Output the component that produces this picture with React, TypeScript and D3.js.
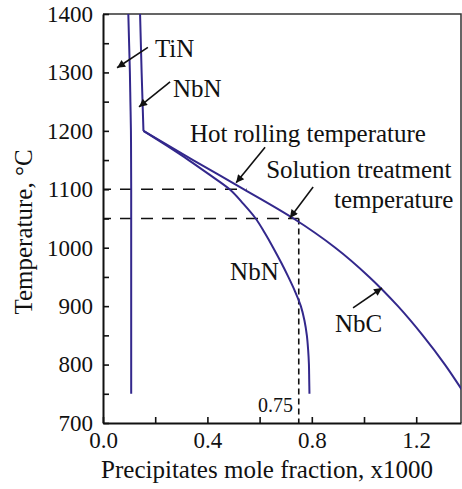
import React, { useEffect, useRef } from 'react';
import * as d3 from 'd3';

// temperature (°C) -> precipitate mole fraction (x1000)
const tinTemps = [1400, 1350, 1300, 1250, 1200, 1100, 1000, 900, 800, 750];
const tinValues = [0.097, 0.1, 0.103, 0.105, 0.107, 0.108, 0.108, 0.108, 0.108, 0.108];

const nbnHighTemps = [1400, 1300, 1200];
const nbnHighValues = [0.142, 0.148, 0.155];

const nbnLowTemps = [1200, 1175, 1150, 1125, 1100, 1075, 1050, 1025, 1000, 975, 950, 925, 900, 875, 850, 825, 800, 775, 750];
const nbnLowValues = [0.155, 0.243, 0.328, 0.408, 0.485, 0.538, 0.585, 0.62, 0.652, 0.682, 0.71, 0.736, 0.758, 0.772, 0.781, 0.786, 0.789, 0.79, 0.791];

const nbcTemps = [1200, 1150, 1100, 1050, 1000, 950, 900, 850, 800, 750];
const nbcValues = [0.155, 0.345, 0.54, 0.73, 0.89, 1.02, 1.13, 1.225, 1.31, 1.385];

const yTickValues = d3.range(700, 1401, 50);
const xTickValues = [0, 0.2, 0.4, 0.6, 0.8, 1.0, 1.2];
const xTickLabels = [0, 0.4, 0.8, 1.2];

const hotRollingTemp = 1100;
const hotRollingEnd = 0.55;
const solutionTemp = 1050;
const solutionFraction = 0.75;

export default function App() {
    const svgRef = useRef<SVGSVGElement>(null);

    useEffect(() => {
        const width = 462;
        const height = 489;
        const left = 103, right = 461, top = 14, bottom = 423;
        const lineColor = '#33288c';
        const font = '"Liberation Serif", "Times New Roman", serif';

        const svg = d3.select(svgRef.current)
            .attr('width', width)
            .attr('height', height);
        svg.selectAll('*').remove();

        svg.append('rect').attr('width', width).attr('height', height).attr('fill', '#ffffff');

        const x = d3.scaleLinear().domain([0, 1.3716]).range([left, right]);
        const y = d3.scaleLinear().domain([700, 1400]).range([bottom, top]);

        svg.append('defs').append('clipPath').attr('id', 'plotclip')
            .append('rect').attr('x', left).attr('y', top)
            .attr('width', right - left).attr('height', bottom - top);

        svg.select('defs').append('marker')
            .attr('id', 'arrow')
            .attr('viewBox', '0 0 10 10')
            .attr('refX', 10).attr('refY', 5)
            .attr('markerWidth', 10).attr('markerHeight', 8)
            .attr('markerUnits', 'userSpaceOnUse')
            .attr('orient', 'auto')
            .append('path').attr('d', 'M0,0 L10,5 L0,10 Z').attr('fill', '#111');

        // frame top / right
        svg.append('path')
            .attr('d', `M${left},${top}H${right}V${bottom}`)
            .attr('fill', 'none').attr('stroke', '#333').attr('stroke-width', 1.5);

        // dashed guides
        const guides = svg.append('g').attr('fill', 'none').attr('stroke', '#111').attr('stroke-width', 1.6);
        guides.append('line')
            .attr('x1', x(0)).attr('x2', x(hotRollingEnd))
            .attr('y1', y(hotRollingTemp)).attr('y2', y(hotRollingTemp))
            .attr('stroke-dasharray', '12,9').attr('stroke-dashoffset', 4);
        guides.append('line')
            .attr('x1', x(0)).attr('x2', x(solutionFraction))
            .attr('y1', y(solutionTemp)).attr('y2', y(solutionTemp))
            .attr('stroke-dasharray', '12,9').attr('stroke-dashoffset', 4);
        guides.append('line')
            .attr('x1', x(solutionFraction)).attr('x2', x(solutionFraction))
            .attr('y1', y(solutionTemp)).attr('y2', y(700))
            .attr('stroke-dasharray', '6,4');

        // curves
        const zip = (t: number[], v: number[]) => t.map((d, i) => [v[i], d] as [number, number]);
        const smooth = d3.line<[number, number]>().x(d => x(d[0])).y(d => y(d[1])).curve(d3.curveMonotoneY);
        const straight = d3.line<[number, number]>().x(d => x(d[0])).y(d => y(d[1]));
        const curves = svg.append('g').attr('clip-path', 'url(#plotclip)')
            .attr('fill', 'none').attr('stroke', lineColor).attr('stroke-width', 2);
        curves.append('path').attr('d', smooth(zip(tinTemps, tinValues)));
        curves.append('path').attr('d', straight(zip(nbnHighTemps, nbnHighValues)));
        curves.append('path').attr('d', smooth(zip(nbnLowTemps, nbnLowValues)));
        curves.append('path').attr('d', smooth(zip(nbcTemps, nbcValues)));

        // axes
        const yAxis = svg.append('g')
            .attr('transform', `translate(${left},0)`)
            .call(d3.axisLeft(y).tickValues(yTickValues).tickSize(-6).tickSizeOuter(0).tickPadding(10)
                .tickFormat(d => (+d % 100 === 0 ? String(d) : '')));
        const xAxis = svg.append('g')
            .attr('transform', `translate(0,${bottom})`)
            .call(d3.axisBottom(x).tickValues(xTickValues).tickSize(-6).tickSizeOuter(0).tickPadding(9)
                .tickFormat(d => (xTickLabels.some(v => Math.abs(v - +d) < 1e-9) ? d3.format('.1f')(+d) : '')));
        [yAxis, xAxis].forEach(a => {
            a.select('.domain').attr('stroke', '#111').attr('stroke-width', 2);
            a.selectAll('.tick line').attr('stroke', '#111').attr('stroke-width', 1.6);
            a.selectAll('.tick text').attr('font-family', font).attr('font-size', 23).attr('fill', '#111');
        });

        // titles
        svg.append('text')
            .attr('x', 267).attr('y', 478)
            .attr('text-anchor', 'middle')
            .attr('font-family', font).attr('font-size', 25).attr('fill', '#111')
            .text('Precipitates mole fraction, x1000');
        svg.append('text')
            .attr('transform', `translate(32,232) rotate(-90)`)
            .attr('text-anchor', 'middle')
            .attr('font-family', font).attr('font-size', 25).attr('fill', '#111')
            .text('Temperature, °C');

        // annotations
        const labels = [
            { text: 'TiN', v: 0.199, t: 1326 },
            { text: 'NbN', v: 0.268, t: 1258 },
            { text: 'Hot rolling temperature', v: 0.333, t: 1181 },
            { text: 'Solution treatment', v: 0.625, t: 1119 },
            { text: 'temperature', v: 0.885, t: 1068 },
            { text: 'NbN', v: 0.487, t: 945 },
            { text: 'NbC', v: 0.889, t: 856 },
        ];
        svg.append('g').selectAll('text').data(labels).join('text')
            .attr('x', d => x(d.v)).attr('y', d => y(d.t))
            .attr('font-family', font).attr('font-size', 25).attr('fill', '#111')
            .text(d => d.text);

        svg.append('text')
            .attr('x', x(0.728)).attr('y', y(719))
            .attr('text-anchor', 'end')
            .attr('font-family', font).attr('font-size', 20).attr('fill', '#111')
            .text('0.75');

        const arrows = [
            { v1: 0.172, t1: 1343, v2: 0.054, t2: 1308 },
            { v1: 0.257, t1: 1284, v2: 0.138, t2: 1241 },
            { v1: 0.621, t1: 1172, v2: 0.51, t2: 1111 },
            { v1: 0.805, t1: 1104, v2: 0.716, t2: 1051 },
            { v1: 0.958, t1: 897, v2: 1.069, t2: 931 },
        ];
        svg.append('g').selectAll('line').data(arrows).join('line')
            .attr('x1', d => x(d.v1)).attr('y1', d => y(d.t1))
            .attr('x2', d => x(d.v2)).attr('y2', d => y(d.t2))
            .attr('stroke', '#111').attr('stroke-width', 1.6)
            .attr('marker-end', 'url(#arrow)');
    }, []);

    return (
        <svg ref={svgRef} style={{ position: 'absolute', left: 0, top: 0, display: 'block' }}></svg>
    );
}
